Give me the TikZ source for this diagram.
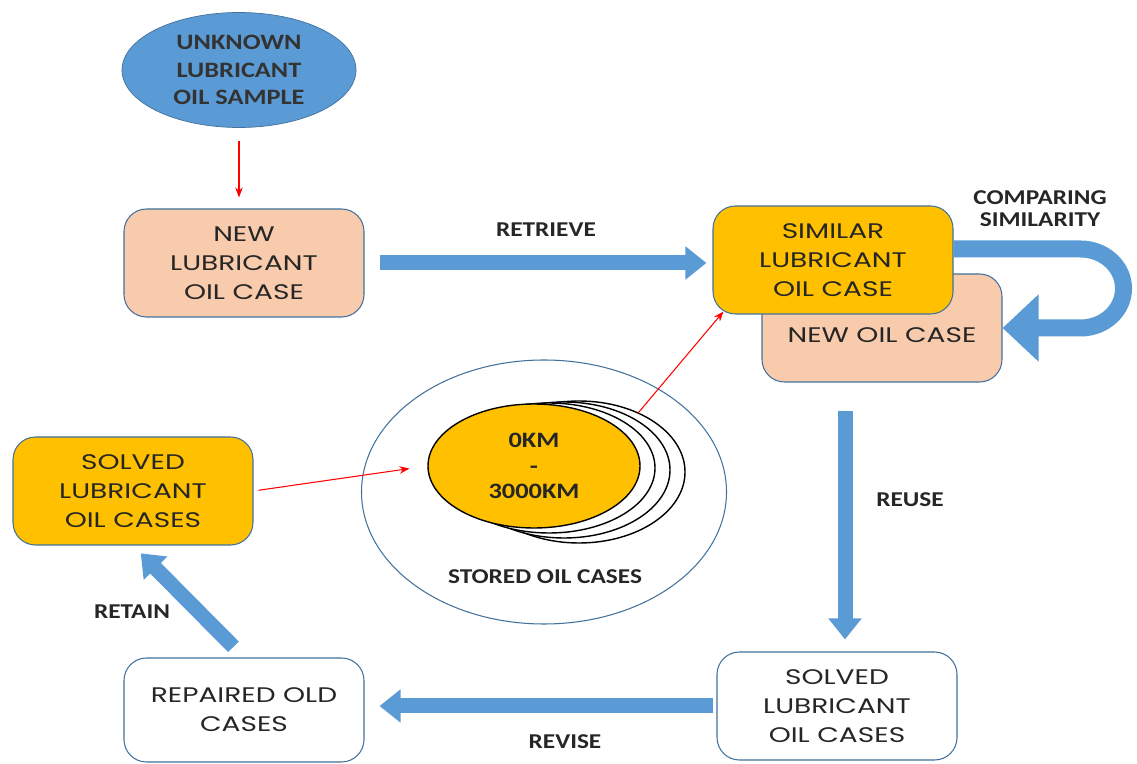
\documentclass[tikz,border=0pt]{standalone}
\usepackage{fontspec}
\setmainfont[FakeStretch=1.33]{Poppins}
\newfontfamily\lblfont[FakeStretch=1.2]{Carlito}
\usetikzlibrary{shapes.geometric, arrows.meta, positioning, calc}
\definecolor{peach}{HTML}{F8CBAD}
\definecolor{gold}{HTML}{FFC000}
\definecolor{steel}{HTML}{5B9BD5}
\definecolor{edge}{HTML}{41719C}

\begin{document}
\begin{tikzpicture}[
    box/.style={rectangle, rounded corners=0.45cm, draw=edge, line width=0.6pt, minimum width=4.8cm, minimum height=2.16cm, align=center, text=black!85, font=\fontsize{12}{16.5}\selectfont},
    lbl/.style={font=\lblfont\bfseries\fontsize{12}{12.5}\selectfont, text=black!85, align=center},
    blk/.style={draw=steel, line width=0.3cm, -{Triangle[length=0.42cm, width=0.64cm]}},
    ar/.style={->, >=Stealth, red, line width=0.6pt}]
\useasboundingbox (0,0) rectangle (22.74,-15.28);

% Case nodes
\node[ellipse, draw=edge, fill=steel, minimum width=4.68cm, minimum height=2.3cm, align=center, font=\lblfont\bfseries\fontsize{12.5}{15.5}\selectfont, text=black!80] (unk) at (4.78,-1.40) {UNKNOWN\\LUBRICANT\\OIL SAMPLE};
\node[box, fill=peach] (newcase) at (4.88,-5.26) {NEW\\LUBRICANT\\OIL CASE};
\node[box, fill=peach] (newoil) at (17.64,-6.56) {\\NEW OIL CASE};
\node[box, fill=gold] (sim) at (16.66,-5.20) {SIMILAR\\LUBRICANT\\OIL CASE};
\node[box, fill=gold] (solved) at (2.66,-9.82) {SOLVED\\LUBRICANT\\OIL CASES};
\node[box, fill=white, minimum height=2.08cm] (repaired) at (4.88,-14.20) {REPAIRED OLD\\CASES};
\node[box, fill=white] (solved2) at (16.74,-14.12) {SOLVED\\LUBRICANT\\OIL CASES};

% Stored cases
\node[ellipse, draw=edge, line width=0.6pt, minimum width=7.3cm, minimum height=5.28cm] (store) at (10.88,-9.84) {};
\foreach \k in {3,2,1}
  \node[ellipse, draw=black, line width=0.8pt, fill=white, minimum width=4.24cm, minimum height=2.48cm+0.12cm*\k] (back\k) at (10.68+0.3*\k,-9.32-0.04*\k) {};
\node[ellipse, draw=black, line width=0.8pt, fill=gold, minimum width=4.24cm, minimum height=2.48cm, align=center, font=\lblfont\bfseries\fontsize{12.5}{14.7}\selectfont, text=black!85] (oil) at (10.68,-9.32) {0KM\\-\\3000KM};
\node[lbl] (storelbl) at (10.90,-11.54) {STORED OIL CASES};

% Block arrows
\draw[blk, shorten <=0.3cm, shorten >=0.12cm] (newcase.east) -- (newcase.east -| sim.west);
\draw[blk, shorten <=0.56cm, shorten >=0.24cm] ($(newoil.south -| solved2.north)+(0.16,0)$) -- ($(solved2.north)+(0.16,0)$);
\draw[blk, shorten <=0.06cm, shorten >=0.3cm] (solved2.west) -- (solved2.west -| repaired.east);
\draw[blk, shorten <=0.3cm, shorten >=0.22cm] (repaired.north) -- (solved.south);
\draw[draw=steel, line width=0.34cm, -{Triangle[length=0.72cm, width=1.3cm]}] ($(sim.east)+(0,0.22)$) -- ++(2.54,0) arc[start angle=90, end angle=-90, x radius=0.86cm, y radius=0.79cm] -- (newoil.east);

% Red links
\draw[ar, shorten <=0.26cm, shorten >=0.22cm] (unk.south) -- (unk.south |- newcase.north);
\draw[ar, shorten <=0.1cm, shorten >=0.36cm] (solved.east) -- (oil.west);
\draw[ar] (back3.45) -- ($(sim.south west)+(0.22,0.06)$);

% Labels
\node[lbl] at (10.92,-4.60) {RETRIEVE};
\node[lbl] at (20.80,-4.18) {COMPARING\\SIMILARITY};
\node[lbl] at (18.20,-10.00) {REUSE};
\node[lbl] at (11.30,-14.84) {REVISE};
\node[lbl] at (2.64,-12.24) {RETAIN};

\end{tikzpicture}
\end{document}
